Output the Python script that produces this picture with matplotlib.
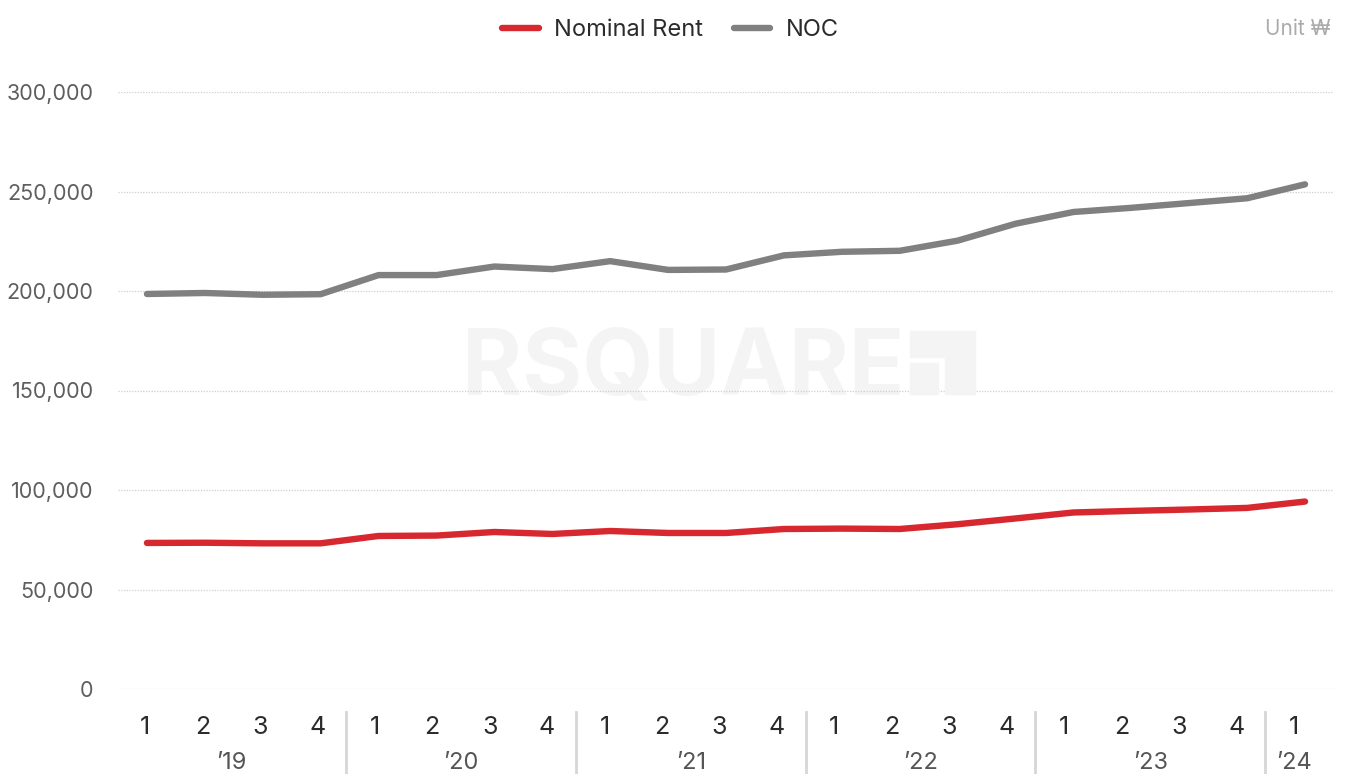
import numpy as np
import matplotlib.pyplot as plt
from matplotlib.patches import Rectangle
import matplotlib.transforms as mtransforms

plt.rcParams['font.family'] = ['Inter', 'DejaVu Sans']

# data (KRW)
quarters = ['1', '2', '3', '4'] * 5 + ['1']
years = ['\u201919', '\u201920', '\u201921', '\u201922', '\u201923', '\u201924']
year_spans = [(0, 3), (4, 7), (8, 11), (12, 15), (16, 19), (20, 20)]
nominal_rent = [73400, 73500, 73200, 73200, 76900, 77100, 78900, 77900,
                79400, 78400, 78400, 80400, 80600, 80400, 82800, 85700,
                88700, 89500, 90200, 91000, 94200]
noc = [198500, 199000, 198100, 198400, 208000, 208000, 212300, 211000,
       215000, 210600, 210800, 217900, 219700, 220200, 225300, 233800,
       239700, 241800, 244200, 246600, 253600]

RED = '#d7282f'
GRAY = '#808080'

fig = plt.figure(figsize=(13.49, 7.74), dpi=100)
ax = fig.add_axes([118 / 1349, 1 - 689 / 774, (1334 - 118) / 1349, 597 / 774])

x = np.arange(len(noc))
ax.plot(x, nominal_rent, color=RED, lw=4.6, solid_capstyle='round',
        solid_joinstyle='round', label='Nominal Rent', zorder=3)
ax.plot(x, noc, color=GRAY, lw=4.6, solid_capstyle='round',
        solid_joinstyle='round', label='NOC', zorder=3)

ax.set_xlim(-0.5, 20.5)
ax.set_ylim(0, 300000)
ax.set_yticks(np.arange(0, 300001, 50000))
ax.set_yticklabels(['{:,}'.format(v) for v in range(0, 300001, 50000)])
ax.tick_params(axis='y', length=0, pad=17.5, labelsize=15.5, labelcolor='#5e5e5e')
ax.set_xticks([])
ax.yaxis.grid(True, color='#cfcfcf', lw=0.9, linestyle=(0, (1, 1.2)))
for s in ax.spines.values():
    s.set_visible(False)

# watermark
wm = '#f4f4f4'
ax.text(0.283, (689 - 394) / 597, 'RSQUARE', transform=ax.transAxes, fontsize=66,
        fontweight='bold', color=wm, ha='left', va='baseline', zorder=0)
fx = lambda px: px / 1349
fy = lambda py: 1 - py / 774
for (x0, y0, x1, y1) in [(910, 331, 975, 357), (910, 363, 938, 394), (945, 357, 975, 394)]:
    fig.patches.append(Rectangle((fx(x0), fy(y1)), fx(x1) - fx(x0), fy(y0) - fy(y1),
                                 transform=fig.transFigure, color=wm, zorder=0))

# category labels under the axis
trans = mtransforms.blended_transform_factory(ax.transData, ax.transAxes)
lab = lambda i: i * 0.9922 - 0.035
for i, q in enumerate(quarters):
    ax.text(lab(i), -0.064, q, transform=trans, ha='center', va='center',
            fontsize=18, color='#2b2b2b')
for yr, (a, b) in zip(years, year_spans):
    ax.text((lab(a) + lab(b)) / 2, -0.124, yr, transform=trans, ha='center',
            va='center', fontsize=17, color='#555555')
for a, b in year_spans[:-1]:
    xs = lab(b + 0.5)
    ax.plot([xs, xs], [-0.038, -0.15], transform=trans, color='#d6d6d6',
            lw=2, clip_on=False)

fig.legend(loc='center', bbox_to_anchor=(0.497, 0.961), ncol=2, frameon=False,
           fontsize=17, handlelength=1.55, columnspacing=1.3, handletextpad=0.65,
           labelcolor='#2b2b2b')
fig.text(1331 / 1349, 0.963, 'Unit ₩', ha='right', va='center', fontsize=15,
         color='#ababab')

fig.savefig('out.png', dpi=100)
